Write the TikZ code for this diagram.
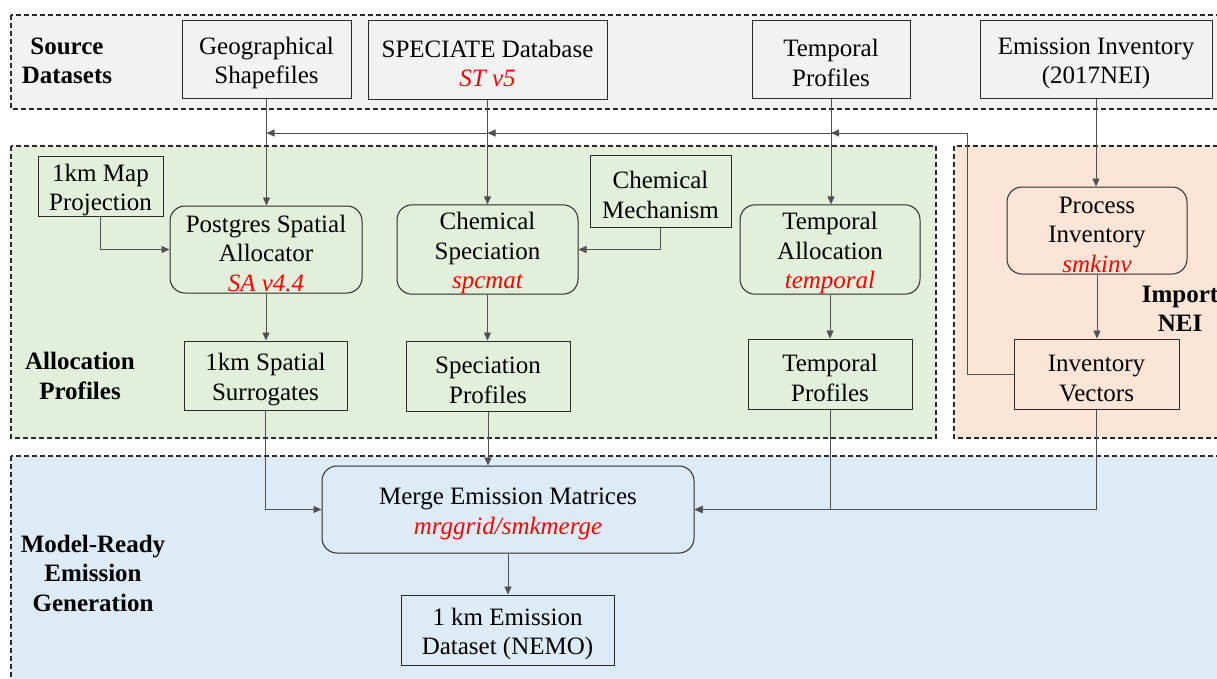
\documentclass[tikz,border=0pt]{standalone}
\usepackage{fontspec}
\setmainfont{Liberation Serif}
\usetikzlibrary{arrows.meta}
\definecolor{srcbg}{HTML}{F2F2F2}
\definecolor{grnbg}{HTML}{E2EFDA}
\definecolor{orgbg}{HTML}{FBE5D6}
\definecolor{blubg}{HTML}{DDEBF7}
\definecolor{redt}{HTML}{FF0000}
\definecolor{linec}{HTML}{505050}
\definecolor{boxc}{HTML}{2A2A2A}
\newcommand{\rd}[1]{\textcolor{redt}{\itshape #1}}
\newcommand{\sx}{\rule{0pt}{25pt}}
\begin{document}
\begin{tikzpicture}[x=1pt,y=-1pt,
  band/.style={draw=boxc, line width=1.1pt, dash pattern=on 5pt off 3pt},
  sqbox/.style={draw=boxc, line width=1pt, align=center, inner sep=0pt,
    font=\fontsize{25}{29.5}\selectfont},
  rbox/.style={sqbox, rounded corners=15pt},
  lbl/.style={align=center, font=\fontsize{25}{29.5}\selectfont\bfseries},
  conn/.style={draw=linec, line width=0.9pt, -{Triangle[length=8pt,width=7pt]}},
  plain/.style={draw=linec, line width=0.9pt}]
\useasboundingbox (0,0) rectangle (1217,678);
% bands
\fill[white] (0,0) rectangle (1217,678);
\draw[band, fill=srcbg] (11,15) rectangle (1230,109);
\draw[band, fill=grnbg] (11,146) rectangle (936,438);
\draw[band, fill=orgbg] (954,146) rectangle (1230,438);
\draw[band, fill=blubg] (11,456) rectangle (1230,690);
% labels
\node[lbl] (lsrc) at (67,61) {Source\\Datasets};
\node[lbl] (lalloc) at (80,376) {Allocation\\Profiles};
\node[lbl] (lmodel) at (93,573) {Model-Ready\\Emission\\Generation};
\node[lbl] (limp) at (1180,309) {Import\\NEI};
% source nodes
\node[sqbox, fill=srcbg, minimum width=169, minimum height=78] (geo) at (266.5,59) {\sx Geographical\\Shapefiles};
\node[sqbox, fill=srcbg, minimum width=239, minimum height=79] (spec) at (487.5,59.5) {\sx SPECIATE Database\\\rd{ST v5}};
\node[sqbox, fill=srcbg, minimum width=158, minimum height=78] (tprof) at (831,59) {\sx Temporal\\Profiles};
\node[sqbox, fill=srcbg, minimum width=232, minimum height=78] (einv) at (1096,59) {\sx Emission Inventory\\(2017NEI)};
% allocation nodes
\node[sqbox, fill=grnbg, minimum width=125, minimum height=60] (mapproj) at (100.5,186) {\sx 1km Map\\Projection};
\node[rbox, fill=grnbg, minimum width=192, minimum height=87] (psa) at (266,249.5) {\sx Postgres Spatial\\Allocator\\\rd{SA v4.4}};
\node[sqbox, fill=grnbg, minimum width=163, minimum height=69] (surr) at (265.5,375.5) {\sx 1km Spatial\\Surrogates};
\node[rbox, fill=grnbg, minimum width=181, minimum height=87] (cspec) at (487.5,249.5) {\sx Chemical\\Speciation\\\rd{spcmat}};
\node[sqbox, fill=grnbg, minimum width=141, minimum height=72] (cmech) at (660.5,191) {\sx Chemical\\Mechanism};
\node[sqbox, fill=grnbg, minimum width=164, minimum height=70] (sprof) at (488,376) {\sx Speciation\\Profiles};
\node[rbox, fill=grnbg, minimum width=180, minimum height=87] (talloc) at (830,249.5) {\sx Temporal\\Allocation\\\rd{temporal}};
\node[sqbox, fill=grnbg, minimum width=164, minimum height=70] (tprof2) at (830,374) {\sx Temporal\\Profiles};
% import nodes
\node[rbox, fill=orgbg, minimum width=180, minimum height=87] (pinv) at (1097,230.5) {\sx Process\\Inventory\\\rd{smkinv}};
\node[sqbox, fill=orgbg, minimum width=165, minimum height=70] (ivec) at (1096.5,374) {\sx Inventory\\Vectors};
% model nodes
\node[rbox, fill=blubg, minimum width=372, minimum height=87] (merge) at (508,509.5) {\sx Merge Emission Matrices\\\rd{mrggrid/smkmerge}};
\node[sqbox, fill=blubg, minimum width=213, minimum height=70] (nemo) at (507.5,630) {\sx 1 km Emission\\Dataset (NEMO)};
% connectors
\coordinate (fb) at (967,133);
\draw[conn] (geo.south) -- (geo.south |- psa.north);
\draw[conn] (spec.south) -- (spec.south |- cspec.north);
\draw[conn] (tprof.south) -- (tprof.south |- talloc.north);
\draw[conn] (einv.south) -- (einv.south |- pinv.north);
\draw[conn] (mapproj.south) |- (psa.west);
\draw[conn] (cmech.south) |- (cspec.east);
\draw[conn] (psa.south) -- (psa.south |- surr.north);
\draw[conn] (cspec.south) -- (cspec.south |- sprof.north);
\draw[conn] (talloc.south) -- (talloc.south |- tprof2.north);
\draw[conn] (pinv.south) -- (pinv.south |- ivec.north);
\draw[plain] (ivec.west) -| (fb);
\draw[conn] (fb) -- (tprof.south |- fb);
\draw[conn] (tprof.south |- fb) -- (spec.south |- fb);
\draw[conn] (spec.south |- fb) -- (geo.south |- fb);
\draw[conn] (surr.south) |- (merge.west);
\draw[conn] (sprof.south) -- (sprof.south |- merge.north);
\draw[conn] (tprof2.south) |- (merge.east);
\draw[conn] (ivec.south) |- (merge.east);
\draw[conn] (merge.south) -- (merge.south |- nemo.north);
\end{tikzpicture}
\end{document}
